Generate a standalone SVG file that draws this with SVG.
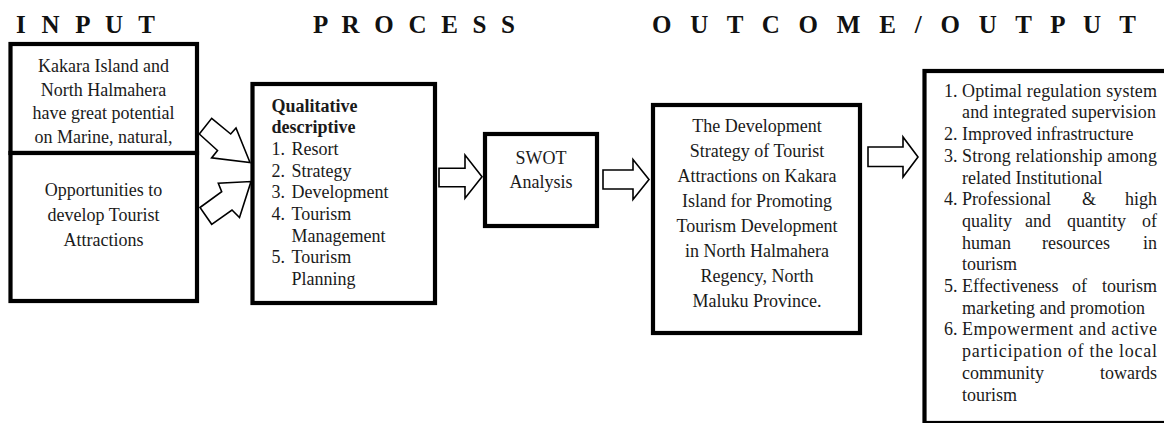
<svg xmlns="http://www.w3.org/2000/svg" width="1164" height="423" viewBox="0 0 1164 423">
<style>
text{font-family:"Liberation Serif","Times New Roman",serif;font-size:18px;fill:#1a1a1a}
.h{font-size:25px;font-weight:bold;fill:#111}
.c{text-anchor:middle}
.e{text-anchor:end}
.b{font-weight:bold}
.box{fill:#fff;stroke:#000;stroke-width:4.2}
.arr{fill:#fff;stroke:#000;stroke-width:1.6;stroke-linejoin:miter}
</style>
<rect width="1164" height="423" fill="#fff"/>
<g id="headers">
<text class="h" x="16" y="33" textLength="139" lengthAdjust="spacing">I N P U T</text>
<text class="h" x="313" y="33" textLength="202" lengthAdjust="spacing">P R O C E S S</text>
<text class="h" x="652" y="33" textLength="484" lengthAdjust="spacing">O U T C O M E / O U T P U T</text>
</g>
<g id="input1">
<rect class="box" x="10.5" y="44" width="186.5" height="109"/>
<text class="c" x="103.5" y="72">Kakara Island and</text>
<text class="c" x="103.5" y="95.5">North Halmahera</text>
<text class="c" x="103.5" y="119">have great potential</text>
<text class="c" x="103.5" y="142.5">on Marine, natural,</text>
</g>
<g id="input2">
<rect class="box" x="10.5" y="153" width="186.5" height="148"/>
<text class="c" x="103.5" y="196">Opportunities to</text>
<text class="c" x="103.5" y="221">develop Tourist</text>
<text class="c" x="103.5" y="246">Attractions</text>
</g>
<g id="process">
<rect class="box" x="252.5" y="84" width="182.5" height="219"/>
<text class="b" x="271.5" y="111.5">Qualitative</text>
<text class="b" x="271.5" y="133.2">descriptive</text>
<text x="271.5" y="154.8">1.</text><text x="291.5" y="154.8">Resort</text>
<text x="271.5" y="176.5">2.</text><text x="291.5" y="176.5">Strategy</text>
<text x="271.5" y="198.2">3.</text><text x="291.5" y="198.2">Development</text>
<text x="271.5" y="219.8">4.</text><text x="291.5" y="219.8">Tourism</text>
<text x="291.5" y="241.5">Management</text>
<text x="271.5" y="263.2">5.</text><text x="291.5" y="263.2">Tourism</text>
<text x="291.5" y="284.8">Planning</text>
</g>
<g id="swot">
<rect class="box" x="485" y="134" width="112" height="92"/>
<text class="c" x="541" y="163.5">SWOT</text>
<text class="c" x="541" y="187.5">Analysis</text>
</g>
<g id="strategy">
<rect class="box" x="653" y="105" width="207" height="228"/>
<text class="c" x="757" y="132">The Development</text>
<text class="c" x="757" y="157">Strategy of Tourist</text>
<text class="c" x="757" y="182">Attractions on Kakara</text>
<text class="c" x="757" y="207">Island for Promoting</text>
<text class="c" x="757" y="232">Tourism Development</text>
<text class="c" x="757" y="257">in North Halmahera</text>
<text class="c" x="757" y="282">Regency, North</text>
<text class="c" x="757" y="307">Maluku Province.</text>
</g>
<g id="outcome">
<rect class="box" x="924.5" y="71" width="260" height="352"/>
<text x="944" y="96.7">1.</text><text x="962" y="96.7" textLength="195" lengthAdjust="spacing">Optimal regulation system</text>
<text x="962" y="118.4" textLength="194" lengthAdjust="spacing">and integrated supervision</text>
<text x="944" y="140.1">2.</text><text x="962" y="140.1">Improved infrastructure</text>
<text x="944" y="161.8">3.</text><text x="962" y="161.8" textLength="195" lengthAdjust="spacing">Strong relationship among</text>
<text x="962" y="183.5">related Institutional</text>
<text x="944" y="205.2">4.</text><text x="962" y="205.2">Professional</text><text class="c" x="1089" y="205.2">&amp;</text><text class="e" x="1157" y="205.2">high</text>
<text x="962" y="226.9">quality</text><text x="1025" y="226.9">and</text><text x="1067" y="226.9">quantity</text><text class="e" x="1157" y="226.9">of</text>
<text x="962" y="248.6">human</text><text x="1042" y="248.6">resources</text><text class="e" x="1157" y="248.6">in</text>
<text x="962" y="270.3">tourism</text>
<text x="944" y="292">5.</text><text x="962" y="292">Effectiveness</text><text x="1072" y="292">of</text><text class="e" x="1157" y="292">tourism</text>
<text x="962" y="313.7">marketing and promotion</text>
<text x="944" y="335.4">6.</text><text x="962" y="335.4" textLength="195" lengthAdjust="spacing">Empowerment and active</text>
<text x="962" y="357.1" textLength="195" lengthAdjust="spacing">participation of the local</text>
<text x="962" y="378.8">community</text><text class="e" x="1157" y="378.8">towards</text>
<text x="962" y="400.5">tourism</text>
</g>
<g id="connectors">
<polygon class="arr" points="199.3,134 211.7,118.3 230.7,134 236,128 250,162.5 211.6,157.9 217.5,150.5"/>
<polygon class="arr" points="200,207.5 221.7,191.7 218.3,183.3 251,181.5 239.5,217.5 232,210 211.7,224.3"/>
<polygon class="arr" points="439,168.3 465,168.3 465,155 482,176.7 465,198.3 465,186.7 439,186.7"/>
<polygon class="arr" points="603,170 633,170 633,159.5 649,179.5 633,199.5 633,189 603,189"/>
<polygon class="arr" points="868,147 903,147 903,137 918,157 903,177 903,166.5 868,166.5"/>
</g>
</svg>
